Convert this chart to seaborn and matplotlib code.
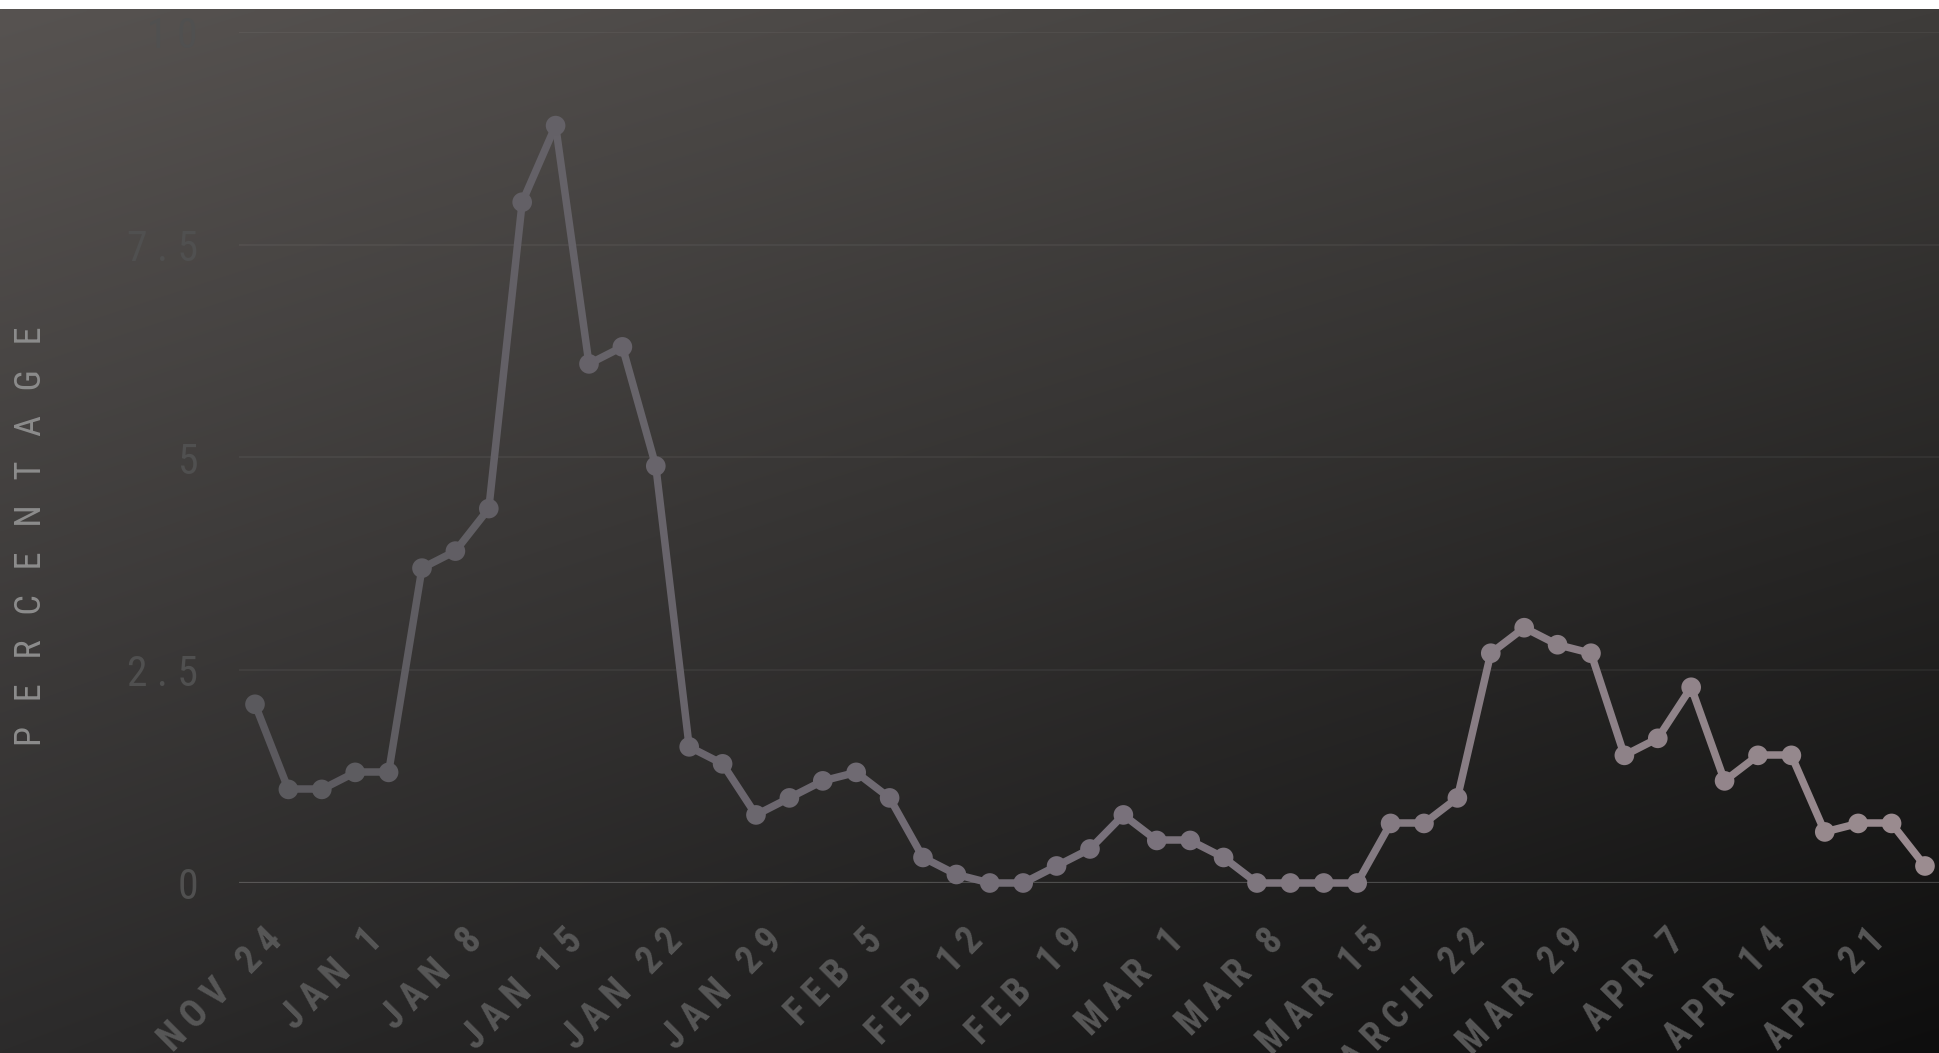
import numpy as np
import pandas as pd
import matplotlib.pyplot as plt
import seaborn as sns
from matplotlib.collections import LineCollection
from matplotlib.colors import LinearSegmentedColormap
from matplotlib.transforms import ScaledTranslation

# =====================================
# Data
# =====================================

values = [2.1, 1.1, 1.1, 1.3, 1.3, 3.7, 3.9, 4.4, 8.0, 8.9,
          6.1, 6.3, 4.9, 1.6, 1.4, 0.8, 1.0, 1.2, 1.3, 1.0,
          0.3, 0.1, 0.0, 0.0, 0.2, 0.4, 0.8, 0.5, 0.5, 0.3,
          0.0, 0.0, 0.0, 0.0, 0.7, 0.7, 1.0, 2.7, 3.0, 2.8,
          2.7, 1.5, 1.7, 2.3, 1.2, 1.5, 1.5, 0.6, 0.7, 0.7, 0.2]

tick_labels = ["NOV 24", "JAN 1", "JAN 8", "JAN 15", "JAN 22", "JAN 29",
               "FEB 5", "FEB 12", "FEB 19", "MAR 1", "MAR 8", "MAR 15",
               "MARCH 22", "MAR 29", "APR 7", "APR 14", "APR 21"]
tick_every = 3

y_ticks = [0, 2.5, 5, 7.5, 10]
y_tick_labels = ["0", "2.5", "5", "7.5", "10"]
y_title = "PERCENTAGE"

df = pd.DataFrame({"idx": np.arange(len(values)), "value": values})


def spaced(s, gap=" ", word_gap="   "):
    # fake css letter-spacing
    words = [gap.join(list(w)) for w in s.split(" ")]
    return (gap + word_gap + gap).join(words)


# =====================================
# Figure + gradient background
# =====================================

sns.set_style("white")
plt.rcParams["font.family"] = ["Roboto Condensed", "DejaVu Sans"]
plt.rcParams["font.stretch"] = "condensed"

W, H, DPI = 1940, 1053, 100
fig = plt.figure(figsize=(W / DPI, H / DPI), dpi=DPI, facecolor="white")

top_frac = 1 - 9 / H
bg_ax = fig.add_axes([0, 0, 1, top_frac])
bg_ax.set_axis_off()
tl = np.array([87, 83, 81]) / 255
tr = np.array([62, 60, 58]) / 255
bl = np.array([44, 43, 43]) / 255
br = np.array([14, 14, 14]) / 255
gx = np.linspace(0, 1, 400)[None, :, None]
gy = np.linspace(0, 1, 220)[:, None, None]
grad = (tl * (1 - gx) * (1 - gy) + tr * gx * (1 - gy)
        + bl * (1 - gx) * gy + br * gx * gy)
bg_ax.imshow(grad, aspect="auto", extent=[0, 1, 0, 1], interpolation="bilinear")
bg_ax.set_xlim(0, 1)
bg_ax.set_ylim(0, 1)

# =====================================
# Main axes
# =====================================

ax_left = 239 / W
ax_bottom = (H - 883) / H
ax_top = (H - 32) / H
ax = fig.add_axes([ax_left, ax_bottom, 1 - ax_left, ax_top - ax_bottom])
ax.set_facecolor("none")

n = len(values)
line_cmap = LinearSegmentedColormap.from_list(
    "fade", ["#5a595d", "#77707a", "#9b8c90"])
cols = line_cmap(np.linspace(0, 1, n))

pts = np.column_stack([df["idx"], df["value"]])
segs = np.stack([pts[:-1], pts[1:]], axis=1)
lc = LineCollection(segs, colors=cols[:-1] * 0.5 + cols[1:] * 0.5,
                    linewidths=5.4, capstyle="round", joinstyle="round",
                    zorder=3, clip_on=False)
ax.add_collection(lc)

sns.scatterplot(data=df, x="idx", y="value", hue="idx", palette=line_cmap,
                s=200, linewidth=0, legend=False, ax=ax, zorder=4, clip_on=False)

ax.set_xlim(-0.479, n - 1 + 0.45)
ax.set_ylim(0, 10)

# grid lines
for yv in y_ticks[1:]:
    ax.axhline(yv, color="white", alpha=0.05, lw=1.3, zorder=1)
ax.axhline(0, color="white", alpha=0.2, lw=1.6, zorder=1)

for s in ax.spines.values():
    s.set_visible(False)

ax.set_yticks(y_ticks)
ax.set_yticklabels([spaced(t) for t in y_tick_labels], fontsize=30,
                   color="#505050")
ax.tick_params(axis="y", length=0, pad=29.5)

xt = list(range(0, n, tick_every))
ax.set_xticks(xt)
ax.set_xticklabels([spaced(t, " ", " ") for t in tick_labels], fontsize=27,
                   fontweight="bold", color="#575757")
ax.tick_params(axis="x", length=0, pad=28)
plt.setp(ax.get_xticklabels(), rotation=45, ha="right", va="top",
         rotation_mode="anchor")
offset = ScaledTranslation(8 / DPI, 0, fig.dpi_scale_trans)
for lab in ax.get_xticklabels():
    lab.set_transform(lab.get_transform() + offset)

ax.set_xlabel("")
ax.set_ylabel("")

fig.text(31 / W, 1 - 536 / H, "   ".join(list(y_title)), rotation=90,
         ha="center", va="center", fontsize=26, color="#8c8c8c")

plt.savefig("out.png", dpi=DPI, facecolor=fig.get_facecolor())
